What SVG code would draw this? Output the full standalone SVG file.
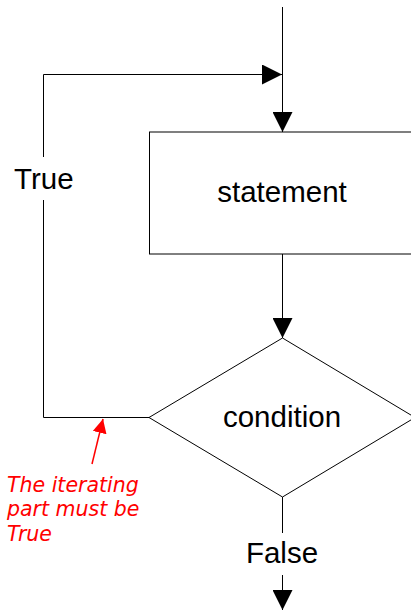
<svg xmlns="http://www.w3.org/2000/svg" width="411" height="611" viewBox="0 0 411 611">
<style>
.ln{fill:none;stroke:#000;stroke-width:1}
.shape{fill:#fff;stroke:#000;stroke-width:1}
.lbl{font-family:"Liberation Sans",Arial,sans-serif;font-size:29.5px;fill:#000}
.note{font-family:"DejaVu Sans",Verdana,sans-serif;font-style:italic;font-size:20.5px;fill:#ff0000}
</style>
<defs>
<marker id="ah" markerWidth="20" markerHeight="20" refX="20" refY="10" orient="auto" markerUnits="userSpaceOnUse">
<path d="M0,0 L20,10 L0,20 Z" fill="#000"/>
</marker>
<marker id="rh" markerWidth="14" markerHeight="14" refX="14" refY="7" orient="auto" markerUnits="userSpaceOnUse">
<path d="M0,0 L14,7 L0,14 Z" fill="#ff0000"/>
</marker>
</defs>
<g id="connectors">
<line class="ln" x1="282.5" y1="7" x2="282.5" y2="132" marker-end="url(#ah)"/>
<polyline class="ln" points="149,417.5 43.5,417.5 43.5,200"/>
<polyline class="ln" points="43.5,157 43.5,74.5 282,74.5" marker-end="url(#ah)"/>
<line class="ln" x1="282.5" y1="254" x2="282.5" y2="338" marker-end="url(#ah)"/>
<line class="ln" x1="282.5" y1="497" x2="282.5" y2="533"/>
<line class="ln" x1="282.5" y1="575" x2="282.5" y2="610" marker-end="url(#ah)"/>
</g>
<g id="statement">
<rect class="shape" x="149.5" y="132" width="280" height="122"/>
<text class="lbl" x="282" y="202" text-anchor="middle">statement</text>
</g>
<g id="condition">
<polygon class="shape" points="282.5,338 415,417.5 282.5,497 149,417.5"/>
<text class="lbl" x="282" y="427" text-anchor="middle">condition</text>
</g>
<g id="labels">
<text class="lbl" x="14" y="189">True</text>
<text class="lbl" x="282" y="563" text-anchor="middle">False</text>
</g>
<g id="note">
<line x1="92" y1="464" x2="103" y2="419" stroke="#ff0000" stroke-width="1.5" marker-end="url(#rh)"/>
<text class="note" x="7" y="492">The iterating</text>
<text class="note" x="7" y="516">part must be</text>
<text class="note" x="7" y="541">True</text>
</g>
</svg>
